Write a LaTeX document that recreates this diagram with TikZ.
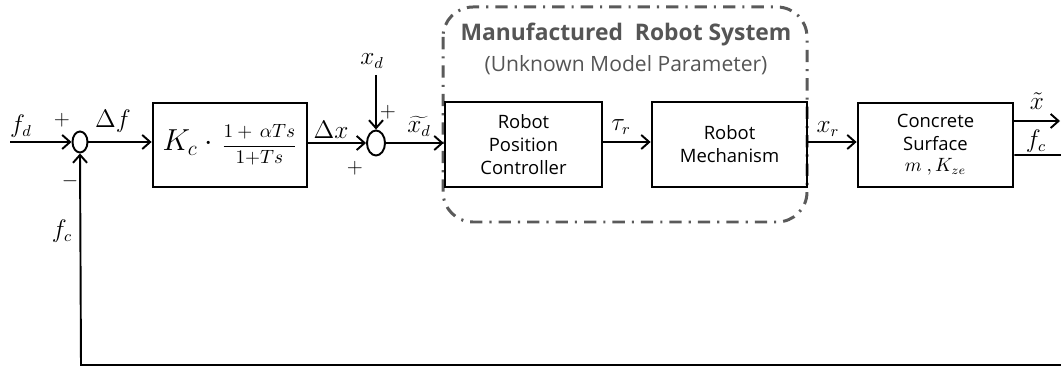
\documentclass[tikz,border=0pt]{standalone}
\usepackage{fontspec}
\setmainfont{Open Sans}
\usetikzlibrary{arrows.meta,shapes.geometric}
\definecolor{titlegrey}{RGB}{85,85,85}
\definecolor{dashgrey}{RGB}{90,90,90}
\begin{document}
\begin{tikzpicture}[x=0.02cm,y=-0.02cm,
  blk/.style={draw,line width=1.6pt,inner sep=0pt,align=center,font=\fontsize{10.5}{13}\selectfont},
  sumnode/.style={draw,ellipse,line width=1.1pt,inner sep=0pt},
  conn/.style={line width=1.1pt,-{Straight Barb[length=4.5pt,width=8pt,line width=1.1pt]}},
  lbl/.style={font=\fontsize{13.5}{16}\selectfont,inner sep=0pt},
  sgn/.style={font=\fontsize{13}{15}\selectfont,inner sep=0pt}]
\useasboundingbox (0,0) rectangle (1061,367);
% dashed system boundary
\draw[dashgrey,line width=1.7pt,rounded corners=0.6cm,dash pattern=on 7pt off 4pt on 1.2pt off 4pt] (443,7) rectangle (807,222);
\node[font=\fontsize{13}{16}\selectfont\bfseries,text=titlegrey] (title) at (626,35) {Manufactured\ \ Robot System};
\node[font=\fontsize{12}{15}\selectfont,text=titlegrey] (subtitle) at (626,65) {(Unknown Model Parameter)};
% nodes
\coordinate (fdin) at (10,142);
\node[sumnode,minimum width=0.3cm,minimum height=0.42cm] (s1) at (80,142) {};
\node[blk,minimum width=3.08cm,minimum height=1.68cm] (kc) at (230,145) {{\fontsize{17.5}{21}\selectfont$K_c\cdot{}$}\hspace{1pt}{\fontsize{11}{13}\selectfont$\displaystyle\frac{1+\,\alpha Ts}{1{+}Ts}$}};
\node[sumnode,minimum width=0.36cm,minimum height=0.5cm] (s2) at (376,143) {};
\coordinate (xdin) at (376,75);
\node[blk,minimum width=3.14cm,minimum height=1.7cm] (rpc) at (523.5,144.5) {Robot\\Position\\Controller};
\node[blk,minimum width=3.1cm,minimum height=1.7cm] (mech) at (729.5,144.5) {Robot\\Mechanism};
\node[blk,minimum width=3.1cm,minimum height=1.68cm] (cs) at (935.5,145) {Concrete\\Surface\\[-1pt]{\fontsize{10.5}{12}\selectfont$m\ ,K_{ze}$}};
\coordinate (xout) at (1060,121);
\coordinate (fcr) at (1075,155);
\coordinate (fcb) at (1075,365);
\coordinate (fcl) at (81,365);
% connectors
\draw[conn] (fdin) -- (s1.west);
\draw[conn] (s1.east) -- (kc.west |- s1.east);
\draw[conn] (kc.east |- s2.west) -- (s2.west);
\draw[conn] (xdin) -- (s2.north);
\draw[conn] (s2.east) -- (rpc.west |- s2.east);
\draw[conn] (rpc.east |- 0,142) -- (mech.west |- 0,142);
\draw[conn] (mech.east |- 0,142) -- (cs.west |- 0,142);
\draw[conn] (cs.east |- xout) -- (xout);
\draw[conn] (cs.east |- fcr) -- (fcr) -- (fcb) -- (fcl) -- (s1.south);
% labels
\node[lbl] (lfd) at (21,126) {$f_d$};
\node[sgn] (p1) at (62,120) {$+$};
\node[sgn] (m1) at (70,181) {$-$};
\node[lbl] (ldf) at (113,121) {$\Delta f$};
\node[lbl] (ldx) at (331,130) {$\Delta x$};
\node[lbl] (lxd) at (372,61) {$x_d$};
\node[sgn] (p2) at (388,112) {$+$};
\node[sgn] (p3) at (355,168) {$+$};
\node[lbl] (lxdt) at (419,126) {$\widetilde{x_d}$};
\node[lbl] (ltau) at (621,127) {$\tau_r$};
\node[lbl] (lxr) at (828,129) {$x_r$};
\node[lbl] (lxt) at (1037,101) {$\tilde{x}$};
\node[lbl] (lfc1) at (1036,141) {$f_c$};
\node[lbl] (lfc2) at (62,231) {$f_c$};
\end{tikzpicture}
\end{document}
